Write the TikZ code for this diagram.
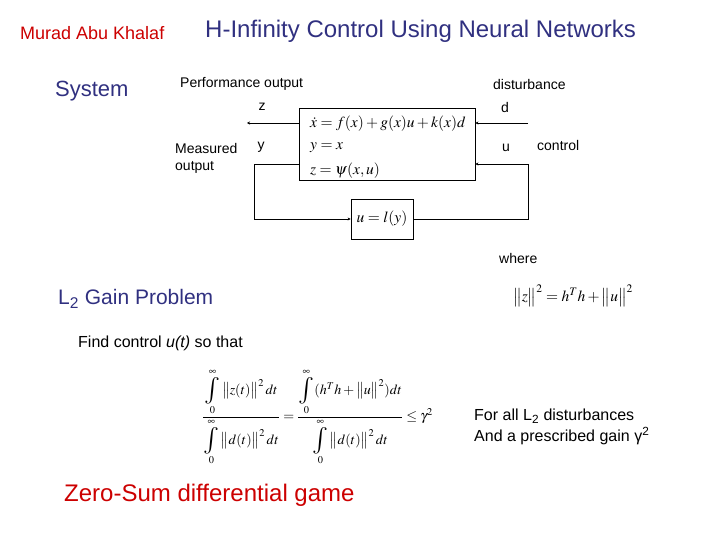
\documentclass[tikz,border=0pt]{standalone}
\usepackage{amsmath}
\usepackage{graphicx}
\usepackage{mathptmx}
\usepackage[no-math]{fontspec}
\setmainfont{Liberation Sans}
\usetikzlibrary{arrows.meta}
\definecolor{navy}{RGB}{48,48,128}
\definecolor{redtxt}{RGB}{204,0,0}
\newcommand{\BigInt}{\mathop{\vcenter{\hbox{\scalebox{1.9}{$\textstyle\int$}}}}\limits}
\tikzset{
  txt/.style={inner sep=0pt, anchor=west},
  lbl/.style={inner sep=0pt, font=\fontsize{14}{16}\selectfont},
  eqn/.style={inner sep=0pt, anchor=west, font=\fontsize{15.5}{17}\selectfont},
  blk/.style={draw, line width=0.8pt, inner sep=0pt},
  arr/.style={line width=0.8pt, -{Stealth[length=3pt,width=3pt]}}
}
\begin{document}
\begin{tikzpicture}[x=1pt,y=-1pt]
\useasboundingbox (0,0) rectangle (720,540);
% headers
\node[txt, text=redtxt, font=\fontsize{18}{20}\selectfont] (author) at (20,33) {Murad Abu Khalaf};
\node[txt, text=navy, font=\fontsize{24}{26}\selectfont] (title) at (205,31) {H-Infinity Control Using Neural Networks};
\node[txt, text=navy, font=\fontsize{22}{24}\selectfont] (system) at (55,91) {System};
% labels
\node[lbl, anchor=west] (perf) at (180,84) {Performance output};
\node[lbl, anchor=west] (dist) at (493,84) {disturbance};
\node[lbl] (zl) at (262,107) {z};
\node[lbl] (dl) at (505,107) {d};
\node[lbl] (yl) at (261,147) {y};
\node[lbl] (ul) at (506,148) {u};
\node[lbl, anchor=west] (ctl) at (537,145) {control};
\node[lbl, anchor=north west, align=left, font=\fontsize{14}{17}\selectfont] (meas) at (175,143) {Measured\\output};
% system box
\node[blk, minimum width=176pt, minimum height=72pt] (sys) at (387,144) {};
\node[eqn] (e1) at (310,124) {$\dot x = f(x) + g(x)u + k(x)d$};
\node[eqn] (e2) at (310,148) {$y = x$};
\node[eqn] (e3) at (310,171) {$z = \psi(x,u)$};
% controller
\node[blk, minimum width=62pt, minimum height=40pt, font=\fontsize{15.5}{17}\selectfont] (ctrl) at (382,219) {$u = l(y)$};
% connectors
\coordinate (zend) at (247,123);
\coordinate (dstart) at (528,123);
\coordinate (yleft) at (254,164);
\coordinate (uright) at (528,164);
\draw[arr] (sys.west |- zend) -- (zend);
\draw[arr] (dstart) -- (dstart -| sys.east);
\draw[arr] (sys.west |- yleft) -- (yleft) |- (ctrl.west);
\draw[arr] (ctrl.east) -| (uright) -- (uright -| sys.east);
% where
\node[lbl, anchor=west] (where) at (499,258) {where};
\node[eqn, font=\fontsize{15.5}{18}\selectfont] (znorm) at (513,296) {$\big\|z\big\|^2 = h^T h + \big\|u\big\|^2$};
% L2 gain
\node[txt, text=navy, font=\fontsize{21}{23}\selectfont] (l2) at (58,299) {L\textsubscript{2} Gain Problem};
\node[txt, font=\fontsize{16}{18}\selectfont] (find) at (78,343) {Find control \textit{u(t)} so that};
\node[txt, font=\fontsize{14}{16}\selectfont] (frac) at (202,417) {$\dfrac{\BigInt_0^\infty \big\|z(t)\big\|^2\,dt}{\BigInt_0^\infty \big\|d(t)\big\|^2\,dt} = \dfrac{\BigInt_0^\infty (h^T h + \big\|u\big\|^2)dt}{\BigInt_0^\infty \big\|d(t)\big\|^2\,dt} \le \gamma^2$};
\node[txt, font=\fontsize{16}{18}\selectfont] (forall) at (474,416) {For all L\textsubscript{2} disturbances};
\node[txt, font=\fontsize{16}{18}\selectfont] (gain) at (474,436) {And a prescribed gain γ\textsuperscript{2}};
\node[txt, text=redtxt, font=\fontsize{24}{26}\selectfont] (zerosum) at (64,495) {Zero-Sum differential game};
\end{tikzpicture}
\end{document}
